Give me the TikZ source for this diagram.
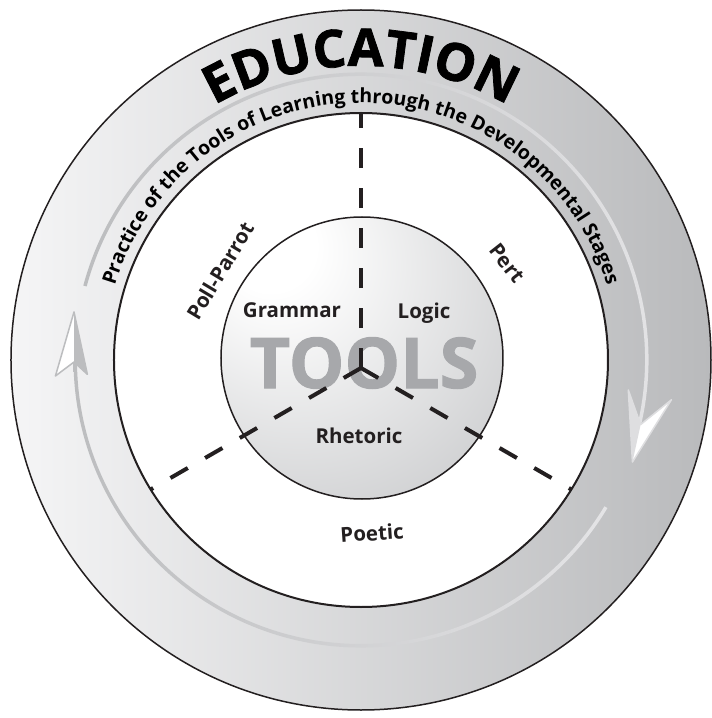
\documentclass[tikz,border=0pt]{standalone}
\usepackage{fontspec}
\setmainfont{Open Sans}
\newfontfamily\heavyfont[BoldFeatures={FakeBold=1.5}]{Open Sans}
\usepackage{tikz}
\usetikzlibrary{decorations.text}
\definecolor{ringleft}{HTML}{F5F5F6}
\definecolor{ringright}{HTML}{B9BABC}
\definecolor{arcdark}{HTML}{BCBDBF}
\definecolor{arclight}{HTML}{E4E4E6}
\definecolor{ballgray}{HTML}{C6C7C9}
\definecolor{toolsgray}{HTML}{A7A8AB}
\definecolor{inkblack}{HTML}{231F20}
\pgfdeclareradialshading{toolsball}{\pgfpoint{-18bp}{22bp}}{color(0bp)=(white); color(8bp)=(white); color(48bp)=(ballgray); color(80bp)=(ballgray)}
\newcommand\educfont{\heavyfont\bfseries\fontsize{52}{52}\selectfont}
\newcommand\pathfont{\fontsize{19.5}{19.5}\selectfont\bfseries}
\newcommand\stagefont{\fontsize{20.5}{20.5}\selectfont\bfseries}
\tikzstyle{stage} = [font=\stagefont, text=inkblack, inner sep=0pt]
\tikzstyle{spoke} = [draw=inkblack, line width=4pt, dash pattern=on 20pt off 20pt]
\tikzstyle{ring} = [draw=inkblack, line width=1.5pt]

\begin{document}
\begin{tikzpicture}[x=1pt, y=1pt]
	\useasboundingbox (-361,-358) rectangle (351,360);
	\shade[left color=ringleft, right color=ringright] (0,0) circle (350);
	\draw[ring] (0,0) circle (350);
	\shade[left color=arcdark, right color=arclight] (165:287.5) arc[start angle=165, end angle=-13, radius=287.5] -- (-13:284) arc[start angle=-13, end angle=165, radius=284] -- cycle;
	\shade[left color=arcdark, right color=arclight] (-31:287.5) arc[start angle=-31, end angle=-180, radius=287.5] -- (-180:284) arc[start angle=-180, end angle=-31, radius=284] -- cycle;
	\filldraw[fill=white, draw=arcdark, line width=1.5pt, line join=round] (170.5:291) -- (183:306) -- (180.4:287) -- (183:274) -- cycle;
	\fill[arcdark] (170.5:291) -- (180.4:287) -- (183:274) -- cycle;
	\filldraw[fill=white, draw=arclight!85!arcdark, line width=1.5pt, line join=round] (-20.6:290) -- (-7.3:313) -- (-13:287) -- (-6.4:269) -- cycle;
	\fill[arclight!85!arcdark] (-20.6:290) -- (-13:287) -- (-6.4:269) -- cycle;
	\path[decorate, decoration={text along path, text={|\educfont|EDUCATION}, text align=center}] (175:294) arc[start angle=175, end angle=5, radius=294];
	\path[decorate, decoration={text along path, text={|\pathfont|Practice of the Tools of Learning through the Developmental Stages}, text align=center}] (178:257) arc[start angle=178, end angle=2, radius=257];
	\filldraw[fill=white, draw=inkblack, line width=2pt] (0,0) circle (247);
	\shade[shading=toolsball] (1,2) circle (141);
	\draw[ring] (1,2) circle (141);
	\node[font=\heavyfont\bfseries\fontsize{70}{70}\selectfont, text=toolsgray, inner sep=0pt] (tools) at (3,-3) {TOOLS};
	\coordinate (hub) at (0,-8);
	\path (hub) ++(90:255) coordinate (topend);
	\path (hub) ++(210:243) coordinate (leftend);
	\path (hub) ++(330:243) coordinate (rightend);
	\draw[spoke] (hub) -- (topend);
	\draw[spoke] (hub) -- (leftend);
	\draw[spoke] (hub) -- (rightend);
	\node[stage] (grammar) at (-69,50) {Grammar};
	\node[stage] (logic) at (63,47) {Logic};
	\node[stage] (rhetoric) at (-2,-76) {Rhetoric};
	\node[stage, rotate=59] (pollparrot) at (-141,89) {Poll-Parrot};
	\node[stage, rotate=-52] (pert) at (146,97) {Pert};
	\node[stage, rotate=4] (poetic) at (11,-173) {Poetic};
\end{tikzpicture}
\end{document}
